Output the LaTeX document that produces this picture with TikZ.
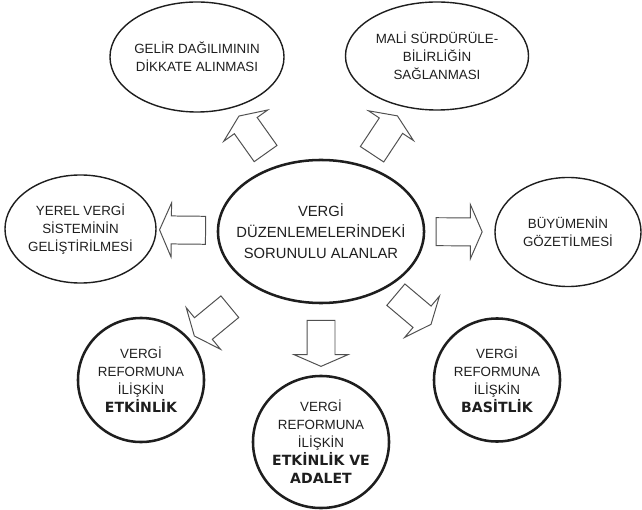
\documentclass[tikz,border=0pt]{standalone}
\usepackage{fontspec}
\setmainfont{Liberation Sans}
\newfontfamily\heavyfont{DejaVu Sans}
\usetikzlibrary{shapes.geometric,shapes.arrows}
\definecolor{Ink}{HTML}{1E1E1E}
\definecolor{Grey}{HTML}{505050}

\begin{document}
\begin{tikzpicture}[x=0.025cm,y=-0.025cm,
    bubble/.style={ellipse,draw=Ink,line width=1pt,inner sep=0pt},
    heavybubble/.style={bubble,line width=1.8pt},
    txt/.style={align=center,text=Ink,inner sep=0pt,font=\fontsize{9.5}{12.8}\selectfont},
    bigtxt/.style={txt,font=\fontsize{10.5}{15}\selectfont},
    blkarr/.style={single arrow,draw=Grey,fill=white,line width=0.7pt,
      inner xsep=0pt,inner ysep=0.3375cm,minimum height=1.15cm,
      single arrow head extend=0.325cm,single arrow tip angle=133,
      sloped,allow upside down}]
    \clip (0,0) rectangle (642,510);
    % centre
    \node[heavybubble,minimum width=5.15cm,minimum height=3.575cm] (vd) at (321,231.5) {};
    \node[bigtxt] (vd-t) at (vd) {VERGİ\\DÜZENLEMELERİNDEKİ\\SORUNULU ALANLAR};
    % upper ring
    \node[bubble,minimum width=4.35cm,minimum height=2.75cm] (gelir) at (197,57) {};
    \node[txt] (gelir-t) at (gelir) {GELİR DAĞILIMININ\\DİKKATE ALINMASI};
    \node[bubble,minimum width=4.575cm,minimum height=2.7cm] (mali) at (437,56) {};
    \node[txt] (mali-t) at (mali) {MALİ SÜRDÜRÜLE-\\BİLİRLİĞİN\\SAĞLANMASI};
    \node[bubble,minimum width=3.775cm,minimum height=2.7cm] (yerel) at (80.5,229) {};
    \node[txt] (yerel-t) at (yerel) {YEREL VERGİ\\SİSTEMİNİN\\GELİŞTİRİLMESİ};
    \node[bubble,minimum width=3.65cm,minimum height=2.725cm] (buyume) at (568,232) {};
    \node[txt] (buyume-t) at (buyume) {BÜYÜMENİN\\GÖZETİLMESİ};
    % lower ring
    \node[heavybubble,minimum width=3.15cm,minimum height=3.1cm] (etk) at (141,380) {};
    \node[txt] (etk-t) at (etk) {VERGİ\\REFORMUNA\\İLİŞKİN\\{\heavyfont\bfseries\fontsize{10}{12.8}\selectfont ETKİNLİK}};
    \node[heavybubble,minimum width=3.4cm,minimum height=3.3cm] (adalet) at (321,442) {};
    \node[txt] (adalet-t) at (adalet) {VERGİ\\REFORMUNA\\İLİŞKİN\\{\heavyfont\bfseries\fontsize{10}{12.8}\selectfont ETKİNLİK VE}\\{\heavyfont\bfseries\fontsize{10}{12.8}\selectfont ADALET}};
    \node[heavybubble,minimum width=3.15cm,minimum height=3.075cm] (basit) at (497,380) {};
    \node[txt] (basit-t) at (basit) {VERGİ\\REFORMUNA\\İLİŞKİN\\{\heavyfont\bfseries\fontsize{10}{12.8}\selectfont BASİTLİK}};
    % block arrows
    \path (vd.center) -- (gelir.center) node[blkarr,pos=0.54] (a-gelir) {};
    \path (vd.center) -- (mali.center) node[blkarr,pos=0.535] (a-mali) {};
    \path (vd.center) -- (yerel.center) node[blkarr,pos=0.563] (a-yerel) {};
    \path (vd.center) -- (buyume.center) node[blkarr,pos=0.547] (a-buyume) {};
    \path (vd.center) -- (etk.center) node[blkarr,pos=0.592] (a-etk) {};
    \path (vd.center) -- (adalet.center) node[blkarr,pos=0.517] (a-adalet) {};
    \path (vd.center) -- (basit.center) node[blkarr,pos=0.512] (a-basit) {};
\end{tikzpicture}
\end{document}
